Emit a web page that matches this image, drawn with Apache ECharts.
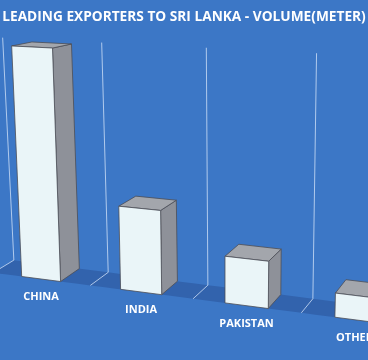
<!DOCTYPE html>
<html><head><meta charset="utf-8">
<script src="https://cdn.jsdelivr.net/npm/echarts@6/dist/echarts.min.js"></script>
<style>html,body{margin:0;padding:0;background:#3c77c6;}#c{width:368px;height:360px;}</style>
</head><body><div id="c"></div>
<script>
// ---- data ----
const categories = ['CHINA', 'INDIA', 'PAKISTAN', 'OTHERS'];
const volumes = [232, 81, 44, 22];
const axisMax = 235;
const titleText = 'LEADING EXPORTERS TO SRI LANKA - VOLUME(METER)';

// ---- 3D look (projection of the 2D grid) ----
const WARP = 0.000291, SKEW0 = 0.13, SKEW_H = 0.00033;
const LEAN = 0.000212, LEAN_ZERO = 184;
function project(xu, h, d, X0, Y0) {
  const rel = xu - X0;
  const xw = rel + WARP * rel * rel;
  const ks = SKEW0 - SKEW_H * h;
  let Y = Y0 + ks * xw - h;
  let X = X0 + xw - h * LEAN * (LEAN_ZERO - xw);
  const dx = 19.33 - 0.03 * (X - X0);
  const dy = -12.85 - 0.038 * (Y - Y0);
  return [X + d * dx, Y + d * dy];
}

const chart = echarts.init(document.getElementById('c'), null, {renderer: 'canvas'});
const lineColor = 'rgba(215,230,250,0.75)';

function renderWall(params, api) {
  const i = api.value(0);
  const o = api.coord([0, 0]);
  const base = api.coord([i, 0]);
  const H = base[1] - api.coord([i, axisMax])[1];
  const band = api.size([1, 0])[0];
  const P = (x, h, d) => project(x, h, d, o[0], o[1]);
  const xl = base[0] - band / 2, xr = base[0] + band / 2;
  const children = [];
  const n = 8, front = [], back = [];
  for (let k = 0; k <= n; k++) {
    const x = xl + (xr - xl) * k / n;
    front.push(P(x, 0, 0)); back.unshift(P(x, 0, 1));
  }
  children.push({type: 'polygon', shape: {points: front.concat(back)}, style: {fill: '#3263ad'}});
  const bounds = [xl];
  if (i === categories.length - 1) bounds.push(xr);
  bounds.forEach(xb => {
    const a = P(xb, 0, 0), b = P(xb, 0, 1), c = P(xb, H, 1);
    children.push({type: 'polyline', shape: {points: [a, b, c]}, style: {stroke: lineColor, lineWidth: 1, fill: null}});
  });
  return {type: 'group', children};
}

function renderBar(params, api) {
  const i = api.value(0), v = api.value(1);
  const o = api.coord([0, 0]);
  const base = api.coord([i, 0]);
  const top = api.coord([i, v]);
  const band = api.size([1, 0])[0];
  const w = band * 0.4;
  const h = base[1] - top[1];
  const P = (x, hh, d) => project(x, hh, d, o[0], o[1]);
  const xl = base[0] - w / 2, xr = base[0] + w / 2;
  const ftl = P(xl, h, 0), ftr = P(xr, h, 0), fbl = P(xl, 0, 0), fbr = P(xr, 0, 0);
  const btl = P(xl, h, 1), btr = P(xr, h, 1), bbr = P(xr, 0, 1);
  const edge = '#4c4e55';
  const lab = P(base[0], 0, 0);
  return {type: 'group', children: [
    {type: 'polygon', shape: {points: [ftr, btr, bbr, fbr]}, style: {fill: '#8e9199', stroke: edge, lineWidth: 0.8}},
    {type: 'polygon', shape: {points: [ftl, btl, btr, ftr]}, style: {fill: '#a3a6ac', stroke: edge, lineWidth: 0.8}},
    {type: 'polygon', shape: {points: [ftl, ftr, fbr, fbl]}, style: {fill: '#eaf5f8', stroke: edge, lineWidth: 0.8}},
    {type: 'text', style: {text: categories[i], x: lab[0], y: lab[1] + 18, fill: '#ffffff',
      fontSize: 11, fontWeight: 'bold', fontFamily: '"Open Sans", sans-serif',
      align: 'center', verticalAlign: 'middle'}}
  ]};
}

chart.setOption({
  backgroundColor: '#3c77c6',
  animation: false,
  title: {text: titleText, left: 'center', top: 5,
    textStyle: {color: '#ffffff', fontSize: 13.7, fontWeight: 'bold', fontFamily: '"Open Sans", sans-serif'}},
  grid: {left: -7.6, right: -13.4, top: 44, bottom: 81, containLabel: false, outerBoundsMode: 'none'},
  xAxis: {type: 'category', data: categories, show: false},
  yAxis: {type: 'value', min: 0, max: axisMax, show: false, splitLine: {show: false}},
  series: [
    {type: 'custom', z: 1, renderItem: renderWall, clip: false,
      data: categories.map((c, i) => [i, 0]), encode: {x: 0, y: 1}},
    {type: 'custom', z: 2, renderItem: renderBar, clip: false,
      data: volumes.map((v, i) => [i, v]), encode: {x: 0, y: 1}}
  ]
});
</script></body></html>
